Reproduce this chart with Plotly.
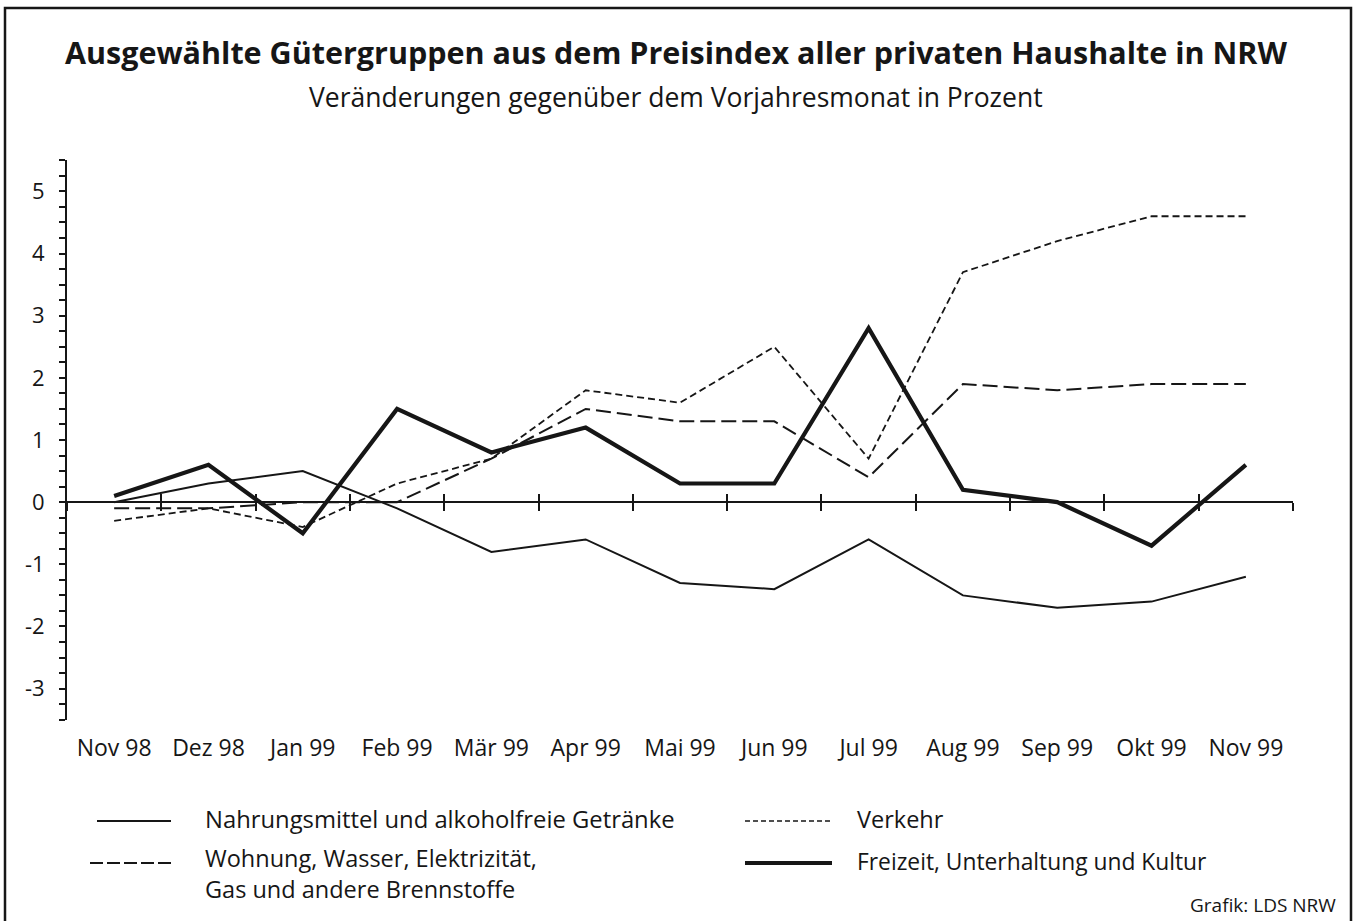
import plotly.graph_objects as go

# ---------------- data ----------------
months = ["Nov 98", "Dez 98", "Jan 99", "Feb 99", "Mär 99", "Apr 99", "Mai 99",
          "Jun 99", "Jul 99", "Aug 99", "Sep 99", "Okt 99", "Nov 99"]
nahrung = [0.0, 0.3, 0.5, -0.1, -0.8, -0.6, -1.3, -1.4, -0.6, -1.5, -1.7, -1.6, -1.2]
wohnung = [-0.1, -0.1, 0.0, 0.0, 0.7, 1.5, 1.3, 1.3, 0.4, 1.9, 1.8, 1.9, 1.9]
verkehr = [-0.3, -0.1, -0.4, 0.3, 0.7, 1.8, 1.6, 2.5, 0.7, 3.7, 4.2, 4.6, 4.6]
freizeit = [0.1, 0.6, -0.5, 1.5, 0.8, 1.2, 0.3, 0.3, 2.8, 0.2, 0.0, -0.7, 0.6]
y_ticks = [-3, -2, -1, 0, 1, 2, 3, 4, 5]

name_nahrung = "Nahrungsmittel und alkoholfreie Getränke"
name_wohnung = "Wohnung, Wasser, Elektrizität,<br>Gas und andere Brennstoffe"
name_verkehr = "Verkehr"
name_freizeit = "Freizeit, Unterhaltung und Kultur"
title = "Ausgewählte Gütergruppen aus dem Preisindex aller privaten Haushalte in NRW"
subtitle = "Veränderungen gegenüber dem Vorjahresmonat in Prozent"
credit = "Grafik: LDS NRW"

# ---------------- layout geometry ----------------
W, H = 1358, 921
L, R, T, B = 67, 65, 160, 201
PW, PH = W - L - R, H - T - B
Y_MIN, Y_MAX = -3.5, 5.5
X_RANGE = [-0.5, len(months) - 0.5]
FONT = "Open Sans"
INK = "#161616"


def px(x):
    return (x - L) / PW


def py(y):
    return (H - B - y) / PH


zero_pos = (0 - Y_MIN) / (Y_MAX - Y_MIN)

fig = go.Figure()

series = [
    (nahrung, name_nahrung, dict(color=INK, width=2)),
    (wohnung, name_wohnung.replace("<br>", " "), dict(color=INK, width=2, dash="15px,6px")),
    (verkehr, name_verkehr, dict(color=INK, width=1.8, dash="7px,4px")),
    (freizeit, name_freizeit, dict(color=INK, width=4.2)),
]
for vals, nm, ln in series:
    fig.add_trace(go.Scatter(x=months, y=vals, name=nm, mode="lines", line=ln,
                             showlegend=False, xaxis="x", yaxis="y"))

# helper (invisible) traces to activate the overlay axes
for ax in ("x2", "x3"):
    fig.add_trace(go.Scatter(x=months, y=[None] * len(months), mode="lines",
                             showlegend=False, hoverinfo="skip", xaxis=ax, yaxis="y"))

common_x = dict(type="category", categoryorder="array", categoryarray=months,
                range=X_RANGE, showgrid=False, zeroline=False, fixedrange=True)

fig.update_layout(
    width=W, height=H,
    margin=dict(l=L, r=R, t=T, b=B, pad=0),
    paper_bgcolor="white", plot_bgcolor="white",
    font=dict(family=FONT, color=INK),
    xaxis=dict(**common_x, anchor="free", position=zero_pos, showline=True,
               linecolor=INK, linewidth=2, ticks="outside", tickson="boundaries",
               ticklen=8, tickwidth=2, tickcolor=INK, showticklabels=False),
    xaxis2=dict(**common_x, overlaying="x", anchor="free", position=zero_pos,
                showline=False, ticks="inside", tickson="boundaries",
                ticklen=8, tickwidth=2, tickcolor=INK, showticklabels=False),
    xaxis3=dict(**common_x, overlaying="x", anchor="y", side="bottom",
                showline=False, ticks="", showticklabels=True,
                tickfont=dict(family=FONT, size=23, color=INK),
                ticklabelstandoff=12),
    yaxis=dict(range=[Y_MIN - 0.005, Y_MAX + 0.005], tickvals=y_ticks,
               ticktext=[str(v) for v in y_ticks],
               showgrid=False, zeroline=False, showline=True, linecolor=INK,
               linewidth=2, ticks="outside", ticklen=6, tickwidth=1.5, tickcolor=INK,
               tickfont=dict(family=FONT, size=22, color=INK),
               ticklabelstandoff=10,
               minor=dict(dtick=0.25, tick0=0, ticks="outside", ticklen=6,
                          tickwidth=1.5, tickcolor=INK, showgrid=False),
               fixedrange=True),
    showlegend=False,
)

# title / subtitle
fig.add_annotation(text="<b>" + title + "</b>", x=px(676), y=py(52), xref="paper", yref="paper",
                   showarrow=False, xanchor="center", yanchor="middle",
                   font=dict(family=FONT, size=30.5, color=INK))
fig.add_annotation(text=subtitle, x=px(676), y=py(97), xref="paper", yref="paper",
                   showarrow=False, xanchor="center", yanchor="middle",
                   font=dict(family=FONT, size=26.5, color=INK))

# legend (manual, two columns)
legend_items = [
    (97, 171, 821, dict(color=INK, width=2), 203, name_nahrung, 819, 23.8),
    (90, 172, 863, dict(color=INK, width=2, dash="13px,4px"), 203, name_wohnung, 873, 23.5),
    (745, 832, 821, dict(color=INK, width=1.6, dash="5px,3px"), 855, name_verkehr, 819, 23.5),
    (745, 832, 863, dict(color=INK, width=4.2), 855, name_freizeit, 861, 22.8),
]
for x0, x1, yk, ln, tx, txt, ty, fs in legend_items:
    fig.add_shape(type="line", xref="paper", yref="paper", x0=px(x0), x1=px(x1),
                  y0=py(yk), y1=py(yk), line=ln)
    fig.add_annotation(text=txt, x=px(tx), y=py(ty), xref="paper", yref="paper",
                       showarrow=False, xanchor="left", yanchor="middle", align="left",
                       font=dict(family=FONT, size=fs, color=INK))

fig.add_annotation(text=credit, x=px(1338), y=py(905), xref="paper", yref="paper",
                   showarrow=False, xanchor="right", yanchor="middle",
                   font=dict(family=FONT, size=19, color=INK))

# outer frame
fig.add_shape(type="rect", xref="paper", yref="paper", x0=px(5), x1=px(1351),
              y0=py(8), y1=py(926), line=dict(color=INK, width=2.5), fillcolor="rgba(0,0,0,0)",
              layer="above")

fig.write_html("out.html", config={"displayModeBar": False},
               post_script="document.body.style.margin='0';")
